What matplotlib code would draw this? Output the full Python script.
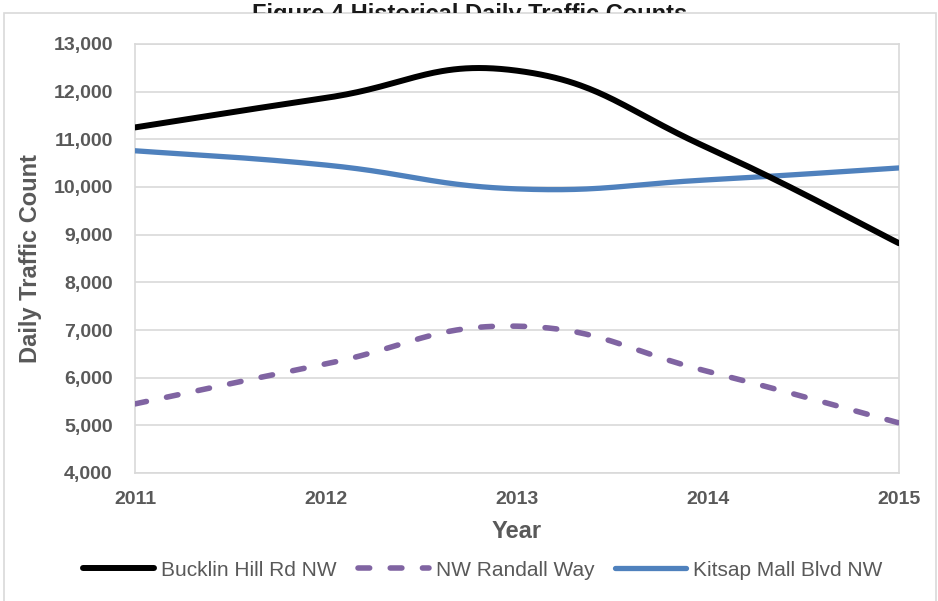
import numpy as np
import matplotlib
matplotlib.use("Agg")
import matplotlib.pyplot as plt
from matplotlib.patches import Rectangle
from matplotlib.ticker import FuncFormatter
from matplotlib.transforms import Bbox, TransformedBbox

plt.rcParams['font.family'] = ['Liberation Sans', 'DejaVu Sans']

# Data
years = [2011, 2012, 2013, 2014, 2015]
bucklin = [11250, 11870, 12440, 10820, 8820]
randall = [5450, 6290, 7080, 6130, 5050]
kitsap = [10760, 10460, 9960, 10150, 10400]

series_names = ["Bucklin Hill Rd NW", "NW Randall Way", "Kitsap Mall Blvd NW"]

grey_text = "#595959"
grid_col = "#d9d9d9"


def smooth(xs, ys, k=0.22, n=60):
    # Excel-like smoothed line: cubic Bezier between points
    p = np.column_stack([xs, ys]).astype(float)
    m = len(p)
    out = [p[0]]
    t = np.linspace(0, 1, n)[1:, None]
    for i in range(m - 1):
        p0 = p[i - 1] if i > 0 else p[i]
        p3 = p[i + 2] if i + 2 < m else p[i + 1]
        c1 = p[i] + (p[i + 1] - p0) * k
        c2 = p[i + 1] - (p3 - p[i]) * k
        seg = ((1 - t) ** 3) * p[i] + 3 * ((1 - t) ** 2) * t * c1 \
            + 3 * (1 - t) * t ** 2 * c2 + t ** 3 * p[i + 1]
        out.extend(seg)
    out = np.array(out)
    return out[:, 0], out[:, 1]


fig = plt.figure(figsize=(9.38, 6.01), dpi=100)
ax = fig.add_axes([135 / 938, 1 - 473 / 601, 764 / 938, 429 / 601])

x, y = smooth(years, bucklin)
ax.plot(x, y, color="black", lw=4.3, solid_capstyle="round", label=series_names[0], zorder=4)
x, y = smooth(years, randall)
ax.plot(x, y, color="#8064A2", lw=4.0, linestyle=(0, (2.1, 3.7)),
        dash_capstyle="round", label=series_names[1], zorder=3)
x, y = smooth(years, kitsap)
ax.plot(x, y, color="#4F81BD", lw=3.8, solid_capstyle="round", label=series_names[2], zorder=3)

ax.set_xlim(2011, 2015)
ax.set_ylim(4000, 13000)
ax.set_xticks(years)
ax.set_yticks(np.arange(4000, 13001, 1000))
ax.yaxis.set_major_formatter(FuncFormatter(lambda v, p: f"{int(v):,}"))
ax.grid(axis="y", color=grid_col, lw=1.2)
ax.set_axisbelow(True)
for s in ax.spines.values():
    s.set_color(grid_col)
    s.set_linewidth(1.2)
ax.tick_params(length=0, labelsize=14, labelcolor=grey_text)
ax.tick_params(axis="y", pad=16)
ax.tick_params(axis="x", pad=13)
for lab in ax.get_xticklabels() + ax.get_yticklabels():
    lab.set_fontweight("bold")

ax.set_xlabel("Year", fontsize=17, fontweight="bold", color=grey_text)
ax.set_ylabel("Daily Traffic Count", fontsize=17, fontweight="bold", color=grey_text)
ax.xaxis.set_label_coords(0.5, -0.1375)
ax.xaxis.label.set_va("center")
ax.yaxis.set_label_coords(-0.137, 0.5)
ax.yaxis.label.set_va("center")

# chart area border
fig.patches.append(Rectangle((4 / 938, -0.05), 932 / 938, 1.05 - 13 / 601,
                             transform=fig.transFigure, fill=False,
                             edgecolor=grid_col, lw=1.2))

# title, cut off by the chart area
title = fig.text(470 / 938, 1 - 21 / 601, "Figure 4 Historical Daily Traffic Counts",
                 ha="center", va="baseline", fontsize=17, fontweight="bold",
                 color="#1a1a1a")
title.set_clip_box(TransformedBbox(Bbox([[0, 1 - 13 / 601], [1, 1]]), fig.transFigure))
title.set_clip_on(True)

fig.legend(loc="center", bbox_to_anchor=(483 / 938, 1 - 570 / 601), ncol=3,
           frameon=False, fontsize=15, handlelength=3.4, handletextpad=0.35,
           columnspacing=1.0, labelcolor=grey_text)

fig.savefig("out.png", dpi=100)
